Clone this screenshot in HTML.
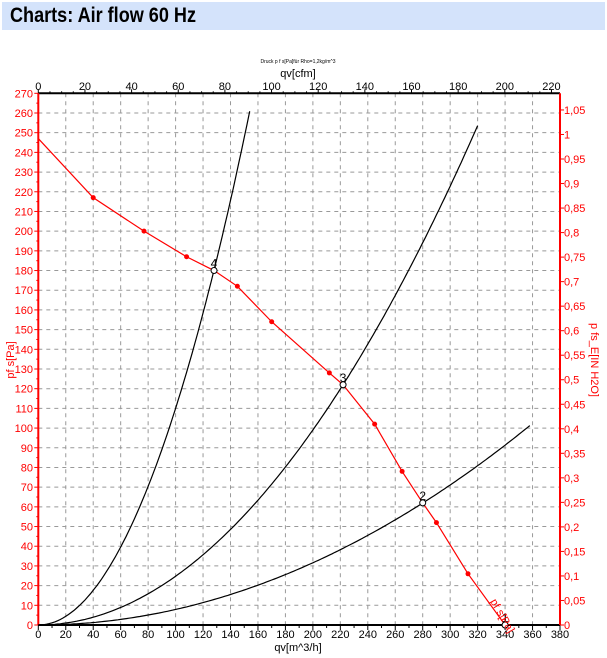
<!DOCTYPE html>
<html><head><meta charset="utf-8"><style>
body{margin:0;background:#fff;width:607px;height:658px;overflow:hidden;font-family:"Liberation Sans",sans-serif}
.t{position:absolute;left:2px;top:2px;width:603px;height:28px;background:#d4e3fb;font-weight:bold;font-size:21px;line-height:28px;padding-left:8px;box-sizing:border-box;color:#000}
.t span{display:inline-block;transform:scaleX(0.86);transform-origin:left center}
svg{position:absolute;left:0;top:0}
</style></head><body>
<div class="t"><span>Charts: Air flow 60 Hz</span></div>
<svg id="s" width="607" height="658" xmlns="http://www.w3.org/2000/svg" font-family="Liberation Sans, sans-serif"></svg>
<script>
const s=document.getElementById('s');
const X0=38.3,X1=560,Y0=625,Y270=93.3;
const X=q=>X0+(X1-X0)*q/380, Y=p=>Y0-(Y0-Y270)*p/270;
let h='';
for(let q=20;q<380;q+=20)h+=`<line x1="${X(q)}" y1="${Y270}" x2="${X(q)}" y2="${Y0}" stroke="#999" stroke-dasharray="4,4"/>`;
for(let p=10;p<270;p+=10)h+=`<line x1="${X0}" y1="${Y(p)}" x2="${X1}" y2="${Y(p)}" stroke="#999" stroke-dasharray="4,4"/>`;
h+=`<line x1="${X0}" y1="${Y270}" x2="${X1}" y2="${Y270}" stroke="#000" stroke-width="2"/>`;
h+=`<line x1="${X0}" y1="${Y0}" x2="${X1}" y2="${Y0}" stroke="#000" stroke-width="2"/>`;
h+=`<line x1="${X0}" y1="${Y270}" x2="${X0}" y2="${Y0}" stroke="red" stroke-width="2"/>`;
h+=`<line x1="${X1}" y1="${Y270}" x2="${X1}" y2="${Y0}" stroke="red" stroke-width="2"/>`;
for(let q=0;q<=380;q+=10){h+=`<line x1="${X(q)}" y1="${Y0}" x2="${X(q)}" y2="${Y0+(q%20?3:5)}" stroke="#000"/>`;}
for(let q=0;q<=380;q+=20)h+=`<text x="${X(q)}" y="638" font-size="11" text-anchor="middle">${q}</text>`;
h+=`<text x="298" y="651" font-size="11" text-anchor="middle">qv[m^3/h]</text>`;
const C=c=>X(c*1.699);
for(let c=0;c<=220;c+=5)h+=`<line x1="${C(c)}" y1="${Y270}" x2="${C(c)}" y2="${Y270-(c%20?2:4)}" stroke="#000"/>`;
for(let c=0;c<=220;c+=20)h+=`<text x="${C(c)}" y="90" font-size="11" text-anchor="middle">${c}</text>`;
h+=`<text x="298" y="77" font-size="11" text-anchor="middle">qv[cfm]</text>`;
h+=`<text x="298" y="63" font-size="5" text-anchor="middle">Druck p f s[Pa]für Rho=1,2kg/m^3</text>`;
for(let p=0;p<=270;p+=5)h+=`<line x1="${X0}" y1="${Y(p)}" x2="${X0-(p%10?2:4)}" y2="${Y(p)}" stroke="red"/>`;
for(let p=0;p<=270;p+=10)h+=`<text x="33" y="${Y(p)+4}" font-size="11" fill="red" text-anchor="end">${p}</text>`;
h+=`<text transform="translate(14,360) rotate(-90)" font-size="11" fill="red" text-anchor="middle">pf s[Pa]</text>`;
for(let i=0;i<=21;i++){const v=i*0.05,y=Y(v*249.09);h+=`<line x1="${X1}" y1="${y}" x2="${X1+4}" y2="${y}" stroke="red"/>`;
 h+=`<text x="${X1+4}" y="${y+4}" font-size="11" fill="red">${(Math.round(v*100)/100).toString().replace('.',',')}</text>`;}
h+=`<text transform="translate(591,360) rotate(90)" font-size="11" fill="red" text-anchor="middle">p fs_E[IN H2O]</text>`;
[[0.011,154],[0.002476,320],[0.00079,358]].forEach(([k,m])=>{let d='';for(let q=0;q<=m;q+=2)d+=(q?'L':'M')+X(q).toFixed(1)+','+Y(k*q*q).toFixed(1);h+=`<path d="${d}" fill="none" stroke="#000" stroke-width="1.2"/>`;});
const F=[[0,247],[40,217],[77,200],[108,187],[128,180],[145,172],[170,154],[212,128],[222,122],[245,102],[265,78],[280,62],[290,52],[313,26],[340,0],[342,-1]];
h+=`<polyline points="${F.map(p=>X(p[0])+','+Y(p[1])).join(' ')}" fill="none" stroke="red" stroke-width="1.2"/>`;
[[40,217],[77,200],[108,187],[145,172],[170,154],[212,128],[245,102],[265,78],[290,52],[313,26]].forEach(p=>h+=`<circle cx="${X(p[0])}" cy="${Y(p[1])}" r="2.5" fill="red"/>`);
[[128,180,'4'],[222,122,'3'],[280,62,'2'],[340,0,'1']].forEach(p=>{h+=`<circle cx="${X(p[0])}" cy="${Y(p[1])}" r="3" fill="#fff" stroke="#000"/><text x="${X(p[0])}" y="${Y(p[1])-3}" font-size="12" text-anchor="middle">${p[2]}</text>`;});
h+=`<text transform="translate(${X(329)},${Y(12)}) rotate(60)" font-size="11" fill="red">pf s[Pa]</text>`;
s.innerHTML=h;
</script>
</body></html>
